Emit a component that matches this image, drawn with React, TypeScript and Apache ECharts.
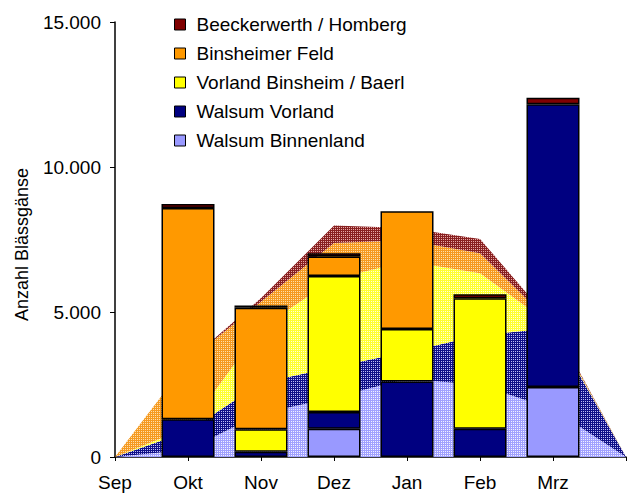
import React, { useEffect, useRef } from "react";
import * as echarts from "echarts";

const categories = ["Sep", "Okt", "Nov", "Dez", "Jan", "Feb", "Mrz", ""];
const seriesNames = [
  "Walsum Binnenland",
  "Walsum Vorland",
  "Vorland Binsheim / Baerl",
  "Binsheimer Feld",
  "Beeckerwerth / Homberg",
];

// bar values (counts per area and month)
const walsumBinnenlandBars = [null, null, null, 975, null, null, 2415, null];
const walsumVorlandBars = [null, 1300, 180, 580, 2600, 975, 9745, null];
const vorlandBinsheimBars = [null, null, 775, 4690, 1810, 4495, null, null];
const binsheimerFeldBars = [null, 7290, 4195, 670, 4060, null, null, null];
const beeckerwerthBars = [null, 130, 70, 110, null, 140, 230, null];

// background stacked area values
const walsumBinnenlandArea = [0, 250, 1500, 2050, 2700, 2480, 1650, 0];
const walsumVorlandArea = [0, 640, 1050, 1050, 920, 1720, 2800, 0];
const vorlandBinsheimArea = [0, 130, 1900, 3040, 3130, 2140, 60, 0];
const binsheimerFeldArea = [0, 2280, 900, 1240, 720, 690, 30, 0];
const beeckerwerthArea = [0, 0, 130, 600, 430, 490, 60, 0];

const yTicks = [0, 5000, 10000, 15000];

const barColors = ["#9999FF", "#000080", "#FFFF00", "#FF9900", "#800000"];
const areaBase = ["#A0A0FF", "#101088", "#FFFF30", "#F59A20", "#882020"];
const dotColors = [
  "rgba(255,255,255,0.85)",
  "rgba(200,200,255,0.95)",
  "rgba(255,255,225,0.95)",
  "rgba(255,225,180,0.95)",
  "rgba(235,175,175,0.95)",
];

function makePattern(base: string, dot: string) {
  const c = document.createElement("canvas");
  c.width = 4;
  c.height = 4;
  const ctx = c.getContext("2d")!;
  ctx.fillStyle = base;
  ctx.fillRect(0, 0, 4, 4);
  ctx.fillStyle = dot;
  ctx.fillRect(1, 1, 1, 1);
  ctx.fillRect(3, 3, 1, 1);
  ctx.fillRect(1, 3, 1, 1);
  ctx.fillRect(3, 1, 1, 1);
  return {
    image: c.toDataURL(),
    repeat: "repeat",
    imageWidth: 4,
    imageHeight: 4,
  } as any;
}

export default function App() {
  const ref = useRef<HTMLDivElement>(null);
  useEffect(() => {
    document.body.style.margin = "0";
    const chart = echarts.init(ref.current!, null, { renderer: "svg" });
    const barData = [
      walsumBinnenlandBars,
      walsumVorlandBars,
      vorlandBinsheimBars,
      binsheimerFeldBars,
      beeckerwerthBars,
    ];
    const areaData = [
      walsumBinnenlandArea,
      walsumVorlandArea,
      vorlandBinsheimArea,
      binsheimerFeldArea,
      beeckerwerthArea,
    ];
    const areaSeries = areaData.map((d, i) => ({
      name: seriesNames[i] + " Fläche",
      type: "line",
      stack: "area",
      data: d,
      symbol: "none",
      silent: true,
      z: 1,
      lineStyle: { width: 0 },
      areaStyle: { color: makePattern(areaBase[i], dotColors[i]), opacity: 1 },
    }));
    const barSeries = barData.map((d, i) => ({
      name: seriesNames[i],
      type: "bar",
      stack: "bars",
      barWidth: 53,
      z: 3,
      data: d.map((v) => (v == null ? "-" : v)),
      itemStyle: { color: barColors[i], borderColor: "#000", borderWidth: 1.5 },
    }));
    chart.setOption({
      animation: false,
      textStyle: { fontFamily: "Liberation Sans, Arial, sans-serif" },
      grid: { left: 115, right: 0, top: 22, bottom: 36, containLabel: false },
      legend: {
        orient: "vertical",
        left: 174,
        top: 15,
        padding: 0,
        itemWidth: 11,
        itemHeight: 11,
        itemGap: 10,
        icon: "rect",
        data: [...seriesNames].reverse(),
        itemStyle: { borderColor: "#000", borderWidth: 1 },
        textStyle: {
          fontSize: 19,
          color: "#000",
          lineHeight: 19,
          padding: [0, 0, 0, 6],
        },
      },
      xAxis: {
        type: "category",
        data: categories,
        boundaryGap: false,
        axisLine: { lineStyle: { color: "#000", width: 1.5 } },
        axisTick: { show: true, length: 4, lineStyle: { color: "#000" } },
        axisLabel: { color: "#000", fontSize: 19, margin: 16 },
      },
      yAxis: {
        type: "value",
        min: yTicks[0],
        max: yTicks[yTicks.length - 1],
        interval: 5000,
        name: "Anzahl Blässgänse",
        nameLocation: "middle",
        nameGap: 84,
        nameTextStyle: { fontSize: 18, color: "#000", padding: [0, 10, 0, 0] },
        splitLine: { show: false },
        axisLine: { show: true, lineStyle: { color: "#000", width: 1.5 } },
        axisTick: { show: true, length: 5, lineStyle: { color: "#000" } },
        axisLabel: {
          color: "#000",
          fontSize: 19,
          margin: 14,
          formatter: (v: number) => v.toLocaleString("de-DE"),
        },
      },
      series: [...areaSeries, ...barSeries],
    });
    return () => chart.dispose();
  }, []);
  return <div ref={ref} style={{ width: 629, height: 493 }} />;
}
